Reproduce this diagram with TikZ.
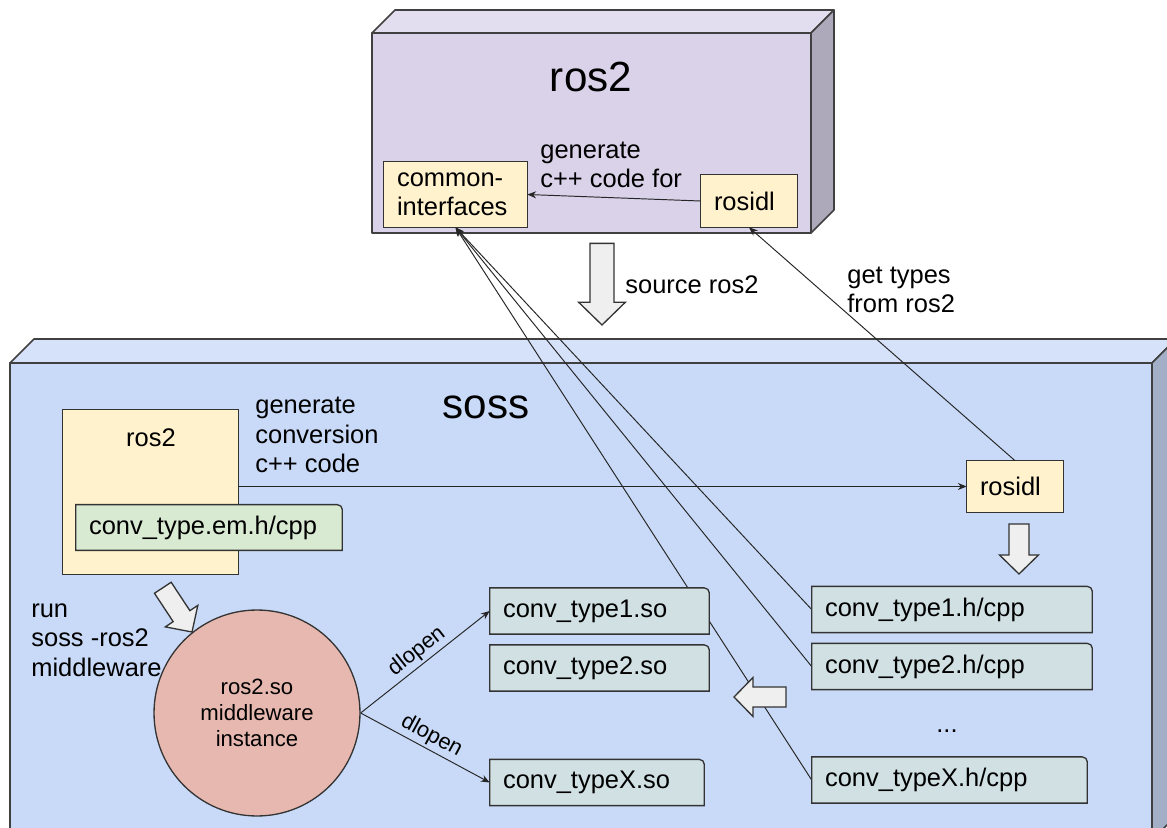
\documentclass[tikz,border=0pt]{standalone}
\usepackage{fontspec}
\setmainfont{Liberation Sans}
\usetikzlibrary{arrows.meta}

\pgfdeclarelayer{back}
\pgfdeclarelayer{wires}
\pgfdeclarelayer{shapes}
\pgfsetlayers{back,wires,shapes,main}

\definecolor{rosfront}{HTML}{D9D2E9}
\definecolor{rostop}{HTML}{E2DDEF}
\definecolor{rosside}{HTML}{ADA8BA}
\definecolor{sossfront}{HTML}{C9DAF8}
\definecolor{sosstop}{HTML}{D5E2F9}
\definecolor{sossside}{HTML}{A2AFC6}
\definecolor{idlfill}{HTML}{FFF2CC}
\definecolor{emfill}{HTML}{D9EAD3}
\definecolor{sofill}{HTML}{D0E0E3}
\definecolor{mwfill}{HTML}{E6B8AF}
\definecolor{fatfill}{HTML}{EFEFEF}

\begin{document}
\begin{tikzpicture}[
    x=0.02cm, y=-0.02cm,
    >={Stealth[length=5pt,width=4pt]},
    txt/.style={font=\fontsize{14.5}{16.8}\selectfont,inner sep=0pt,align=left},
    title/.style={font=\fontsize{24}{28}\selectfont,inner sep=0pt},
    box/.style={txt,inner xsep=0.26cm,minimum height=0.91cm},
    outline/.style={draw=black!80,line width=0.75pt},
    cube/.style={draw=black!75,line width=0.9pt,line join=round},
    wire/.style={->,draw=black!85,line width=0.55pt},
    dl/.style={font=\fontsize{12.5}{14}\selectfont,inner sep=1.5pt},
    fat/.style={draw=black!80,line width=0.75pt,fill=fatfill,line join=miter},
    pics/fatarrow/.style={code={
      \filldraw[fat] (0,0) -- (-19,19.5) -- (-19,10) -- (-#1,10) -- (-#1,-10) -- (-19,-10) -- (-19,-19.5) -- cycle;
    }},
  ]

  \useasboundingbox (0,0) rectangle (1167,828);

  \begin{pgfonlayer}{back}
    \filldraw[cube,fill=rosfront] (372,33) rectangle (811,233);
    \filldraw[cube,fill=rostop] (372,33) -- (395,10) -- (834,10) -- (811,33) -- cycle;
    \filldraw[cube,fill=rosside] (811,33) -- (834,10) -- (834,210) -- (811,233) -- cycle;

    \filldraw[cube,fill=sossfront] (10,363) rectangle (1152,840);
    \filldraw[cube,fill=sosstop] (10,363) -- (34,339) -- (1176,339) -- (1152,363) -- cycle;
    \filldraw[cube,fill=sossside] (1152,363) -- (1176,339) -- (1176,816) -- (1152,840) -- cycle;
  \end{pgfonlayer}

  \node (t-ros2) at (591,77) [title] {ros2};
  \node (t-soss) at (486,407) [title] {soss};

  \node (ci) at (455.5,194.5) [box,text width=2.34cm,minimum height=1.3cm] {common-\\interfaces};
  \node (rt) at (749,201) [box,text width=1.4cm,minimum height=1.04cm] {rosidl};
  \node (l-gen) at (540,165) [txt,anchor=west] {generate\\c++ code for};
  \node (l-src) at (625,285) [txt,anchor=west] {source ros2};
  \node (l-get) at (847,290) [txt,anchor=west] {get types\\from ros2};

  \node (r2) at (150.5,492) [box,minimum width=3.5cm,minimum height=3.28cm] {};
  \node (r2-t) at (151,438) [txt] {ros2};
  \node (em) at (209,527.5) [box,text width=4.8cm,minimum height=0.9cm] {conv\_type.em.h/cpp};
  \node (l-conv) at (255,435) [txt,anchor=west] {generate\\conversion\\c++ code};
  \node (rs) at (1015,486.5) [box,text width=1.4cm,minimum height=1.02cm] {rosidl};

  \node (hc1) at (952,609.5) [box,text width=5.08cm] {conv\_type1.h/cpp};
  \node (hc2) at (952,666.5) [box,text width=5.08cm] {conv\_type2.h/cpp};
  \node (dots) at (947,731) [txt] {...};
  \node (hcx) at (949.5,780) [box,text width=4.98cm] {conv\_typeX.h/cpp};

  \node (so1) at (599.5,611) [box,text width=3.86cm] {conv\_type1.so};
  \node (so2) at (599.5,668) [box,text width=3.86cm] {conv\_type2.so};
  \node (sox) at (597,782.5) [box,text width=3.76cm] {conv\_typeX.so};

  \node (l-run) at (31,640) [txt,anchor=west] {run\\soss -ros2\\middleware};
  \node (mw) at (257,713) [circle,draw=black!80,line width=0.75pt,fill=mwfill,minimum size=4.12cm,inner sep=0pt,align=center,
    font=\fontsize{12.6}{14.7}\selectfont] {ros2.so\\middleware\\instance};

  \begin{pgfonlayer}{shapes}
    \foreach \n in {ci,rt,r2,rs}
    {
      \filldraw[outline,fill=idlfill] (\n.south west) rectangle (\n.north east);
    }
    \foreach \n/\c in {em/emfill,so1/sofill,so2/sofill,sox/sofill,hc1/sofill,hc2/sofill,hcx/sofill}
    {
      \filldraw[outline,fill=\c] (\n.south west) -- (\n.north west) -- ([xshift=-0.1cm]\n.north east)
        arc[start angle=90,end angle=0,radius=0.1cm] -- (\n.south east) -- cycle;
    }
  \end{pgfonlayer}

  \begin{pgfonlayer}{wires}
    \foreach \n in {hc1,hc2,hcx}
      \draw[wire] (\n.west) -- (ci.south);
  \end{pgfonlayer}

  \draw[wire] (rt.west) -- (ci.east);
  \draw[wire] (r2.east |- rs.west) -- (rs.west);
  \draw[wire] (rs.north) -- (rt.south);
  \draw[wire] (mw.east) -- node[dl,sloped,above] {dlopen} (so1.west);
  \draw[wire] (mw.east) -- node[dl,sloped,above] {dlopen} (sox.west);

  \pic[rotate=-90,scale=1.2] at (602,325) {fatarrow=68};
  \pic[rotate=-90] at (1019,574) {fatarrow=50};
  \pic[rotate=180] at (734,697) {fatarrow=52};
  \pic[rotate=-56.6] at (192,632) {fatarrow=53};

\end{tikzpicture}
\end{document}
